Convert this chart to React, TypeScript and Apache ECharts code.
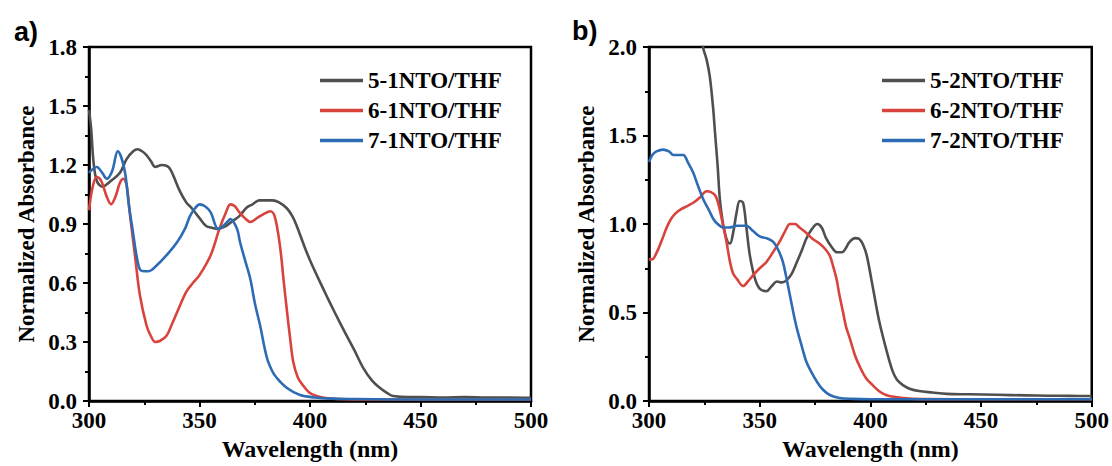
import React, { useEffect, useRef } from "react";
import * as echarts from "echarts";

// ---------- Panel a ----------
const a5x = [300, 301, 302, 303.5, 306, 310, 314, 317, 320, 322, 324, 326, 328, 330, 333, 336, 338, 341, 344, 346.5, 350, 353, 356, 358, 362, 365, 368, 371.5, 374, 377, 380, 383, 386, 389.5, 392, 394, 398, 401, 406, 409, 413, 416.7, 420, 424, 428, 431.7, 435, 437.6, 441, 445, 450, 460, 470, 480, 490, 500];
const a5y = [1.48, 1.38, 1.22, 1.12, 1.09, 1.12, 1.16, 1.23, 1.27, 1.28, 1.27, 1.25, 1.22, 1.19, 1.2, 1.19, 1.15, 1.07, 1.01, 0.98, 0.93, 0.89, 0.88, 0.875, 0.89, 0.915, 0.94, 0.985, 1.0, 1.02, 1.02, 1.02, 1.01, 0.98, 0.94, 0.89, 0.77, 0.69, 0.57, 0.5, 0.41, 0.33, 0.26, 0.17, 0.105, 0.066, 0.04, 0.025, 0.022, 0.02, 0.02, 0.018, 0.02, 0.017, 0.018, 0.016];

const a6x = [300, 301.5, 303.5, 305.5, 308, 310, 312, 314, 315.5, 317, 318.5, 320.8, 323, 326, 328, 330, 332, 335, 337.5, 340, 344, 347, 350, 355, 359, 362, 364, 366, 368, 370.5, 373, 376, 379, 382, 384, 386.4, 388, 389.6, 391, 392.4, 394.5, 396.8, 399.5, 403, 407, 412, 420, 440, 460, 480, 500];
const a6y = [0.97, 1.08, 1.14, 1.12, 1.04, 1.0, 1.04, 1.11, 1.13, 1.1, 0.95, 0.74, 0.54, 0.385, 0.33, 0.3, 0.305, 0.33, 0.39, 0.455, 0.555, 0.6, 0.64, 0.74, 0.875, 0.96, 1.0, 0.99, 0.96, 0.93, 0.91, 0.93, 0.95, 0.965, 0.94, 0.79, 0.62, 0.455, 0.32, 0.2, 0.12, 0.08, 0.045, 0.025, 0.015, 0.01, 0.008, 0.008, 0.008, 0.008, 0.008];

const a7x = [300, 303.5, 306, 308, 310.5, 313, 316, 318, 320, 321.5, 323, 325, 327, 330.7, 335, 340, 343.4, 345.7, 348, 350, 352.5, 355, 358.5, 360.6, 362.5, 364, 367, 368.3, 370.5, 373, 375, 377.4, 380.5, 383, 385, 389.6, 395.5, 402, 410, 420, 440, 460, 480, 500];
const a7y = [1.16, 1.19, 1.16, 1.13, 1.17, 1.27, 1.18, 1.0, 0.85, 0.74, 0.67, 0.66, 0.66, 0.69, 0.74, 0.81, 0.875, 0.94, 0.98, 1.0, 0.99, 0.96, 0.875, 0.89, 0.91, 0.925, 0.875, 0.81, 0.72, 0.62, 0.5, 0.385, 0.22, 0.15, 0.117, 0.066, 0.03, 0.018, 0.012, 0.01, 0.008, 0.008, 0.008, 0.008];

// ---------- Panel b ----------
const b5x = [316, 320, 322, 324.4, 326, 327.5, 329, 329.8, 331, 332, 333.2, 334.3, 335.5, 336.6, 338, 339.5, 341, 342.5, 344, 345.6, 347.9, 350, 353, 355.5, 357.8, 360, 362, 364.5, 366.8, 369, 371, 373.5, 376, 378, 380, 382.5, 385, 387, 390.7, 393, 395, 396.8, 398.4, 401, 404, 407.4, 410, 412, 414.7, 418, 422, 428, 434.5, 445, 457, 470, 480, 490, 500];
const b5y = [3.0, 2.6, 2.3, 2.0, 1.93, 1.83, 1.65, 1.52, 1.33, 1.14, 1.02, 0.95, 0.9, 0.89, 0.95, 1.06, 1.13, 1.12, 0.98, 0.82, 0.69, 0.635, 0.62, 0.65, 0.675, 0.67, 0.68, 0.72, 0.785, 0.85, 0.915, 0.97, 1.0, 0.98, 0.92, 0.87, 0.84, 0.84, 0.9, 0.92, 0.915, 0.88, 0.82, 0.65, 0.45, 0.28, 0.17, 0.12, 0.09, 0.068, 0.056, 0.048, 0.04, 0.038, 0.035, 0.032, 0.03, 0.029, 0.028];

const b6x = [300, 301.4, 303.5, 306, 308, 310, 312, 314, 317, 320, 323, 326, 328, 330, 331.8, 333.5, 335, 336.6, 338, 339.7, 342.5, 345, 347, 350, 353, 356, 359, 361.5, 363.7, 366, 368, 371, 374, 377, 379.5, 381.7, 383.2, 384.7, 386, 387.6, 389, 390.7, 393, 395, 398, 401, 404, 407, 410, 414.7, 420, 440, 460, 480, 500];
const b6y = [0.8, 0.8, 0.84, 0.915, 0.98, 1.03, 1.06, 1.08, 1.1, 1.12, 1.15, 1.185, 1.18, 1.16, 1.09, 0.99, 0.9, 0.785, 0.72, 0.69, 0.65, 0.68, 0.71, 0.75, 0.785, 0.84, 0.9, 0.96, 1.0, 1.0, 0.98, 0.95, 0.915, 0.89, 0.86, 0.82, 0.76, 0.69, 0.6, 0.505, 0.42, 0.354, 0.26, 0.2, 0.13, 0.09, 0.055, 0.034, 0.025, 0.017, 0.012, 0.01, 0.01, 0.01, 0.01];

const b7x = [300, 301.5, 303.4, 306.4, 309, 311, 313, 315.5, 317.5, 320, 322, 324.5, 327, 329, 331, 333.5, 336, 339.7, 342, 344, 347, 350, 353, 356, 358.5, 360.5, 362, 363.6, 365.2, 366.8, 369, 371, 373.5, 375.8, 378.5, 381.7, 386, 392, 400, 420, 450, 500];
const b7y = [1.35, 1.39, 1.41, 1.42, 1.41, 1.39, 1.39, 1.39, 1.35, 1.29, 1.22, 1.14, 1.08, 1.03, 1.0, 0.98, 0.98, 0.99, 0.99, 0.99, 0.96, 0.93, 0.92, 0.9, 0.85, 0.785, 0.7, 0.6, 0.5, 0.41, 0.31, 0.225, 0.16, 0.11, 0.065, 0.034, 0.017, 0.012, 0.01, 0.01, 0.01, 0.01];

const namesA = ["5-1NTO/THF", "6-1NTO/THF", "7-1NTO/THF"];
const namesB = ["5-2NTO/THF", "6-2NTO/THF", "7-2NTO/THF"];
const colors = ["#4f4f4f", "#d8443c", "#2d6cb4"];
const xTitle = "Wavelength (nm)";
const yTitle = "Normalized Absorbance";
const panelLabels = ["a)", "b)"];

const SERIF = "Liberation Serif";

function zip(xs: number[], ys: number[]) {
  return xs.map((x, i) => [x, ys[i]]);
}

export default function App() {
  const ref = useRef<HTMLDivElement>(null);
  useEffect(() => {
    if (!ref.current) return;
    const chart = echarts.init(ref.current, null, { renderer: "svg" });
    const textBase = { color: "#000", fontFamily: SERIF, fontWeight: "bold" as const, fontSize: 23 };
    const mkX = (gi: number) => ({
      type: "value",
      gridIndex: gi,
      min: 300,
      max: 500,
      interval: 50,
      name: xTitle,
      nameLocation: "middle",
      nameGap: 36,
      nameTextStyle: { ...textBase, fontSize: 24 },
      axisLine: { onZero: false, lineStyle: { color: "#000", width: 2.5 } },
      axisTick: { show: true, inside: false, length: 6, lineStyle: { color: "#000", width: 2 } },
      minorTick: { show: true, splitNumber: 2, length: 4, lineStyle: { color: "#000", width: 2 } },
      axisLabel: { ...textBase, margin: 8 },
      splitLine: { show: false },
    });
    const mkY = (gi: number, max: number, interval: number) => ({
      type: "value",
      gridIndex: gi,
      min: 0,
      max,
      interval,
      name: yTitle,
      nameLocation: "middle",
      nameGap: 51,
      nameRotate: 90,
      nameTextStyle: { ...textBase },
      axisLine: { onZero: false, lineStyle: { color: "#000", width: 2.5 } },
      axisTick: { show: true, inside: false, length: 6, lineStyle: { color: "#000", width: 2 } },
      minorTick: { show: true, splitNumber: 2, length: 4, lineStyle: { color: "#000", width: 2 } },
      axisLabel: { ...textBase, margin: 12, formatter: (v: number) => v.toFixed(1) },
      splitLine: { show: false },
    });
    const mkSeries = (name: string, xs: number[], ys: number[], gi: number, ci: number) => ({
      name,
      type: "line",
      xAxisIndex: gi,
      yAxisIndex: gi,
      data: zip(xs, ys),
      smooth: 0.35,
      showSymbol: false,
      symbol: "none",
      clip: true,
      lineStyle: { color: colors[ci], width: 2.6 },
      itemStyle: { color: colors[ci] },
    });
    const mkLegend = (names: string[], left: number) => ({
      data: names,
      left,
      top: 69,
      orient: "vertical",
      icon: "rect",
      itemWidth: 43,
      itemHeight: 3.5,
      itemGap: 7,
      padding: 0,
      textStyle: { ...textBase, lineHeight: 23, padding: [0, 0, 0, 0] },
      selectedMode: false,
    });
    chart.setOption({
      animation: false,
      backgroundColor: "#ffffff",
      grid: [
        { left: 89, top: 47, width: 442, height: 356, show: true, borderColor: "#000", borderWidth: 2.5, backgroundColor: "transparent" },
        { left: 649, top: 47, width: 443, height: 356, show: true, borderColor: "#000", borderWidth: 2.5, backgroundColor: "transparent" },
      ],
      xAxis: [mkX(0), mkX(1)],
      yAxis: [mkY(0, 1.8, 0.3), mkY(1, 2.0, 0.5)],
      legend: [mkLegend(namesA, 320), mkLegend(namesB, 882)],
      series: [
        mkSeries(namesA[0], a5x, a5y, 0, 0),
        mkSeries(namesA[1], a6x, a6y, 0, 1),
        mkSeries(namesA[2], a7x, a7y, 0, 2),
        mkSeries(namesB[0], b5x, b5y, 1, 0),
        mkSeries(namesB[1], b6x, b6y, 1, 1),
        mkSeries(namesB[2], b7x, b7y, 1, 2),
      ],
      graphic: [
        { type: "text", left: 14, top: 18, style: { text: panelLabels[0], fill: "#000", fontFamily: "Liberation Sans", fontWeight: "bold", fontSize: 27 } },
        { type: "text", left: 572, top: 17, style: { text: panelLabels[1], fill: "#000", fontFamily: "Liberation Sans", fontWeight: "bold", fontSize: 27 } },
      ],
    });
    return () => chart.dispose();
  }, []);
  return <div ref={ref} style={{ position: "fixed", left: 0, top: 0, width: 1112, height: 466, background: "#fff" }} />;
}
